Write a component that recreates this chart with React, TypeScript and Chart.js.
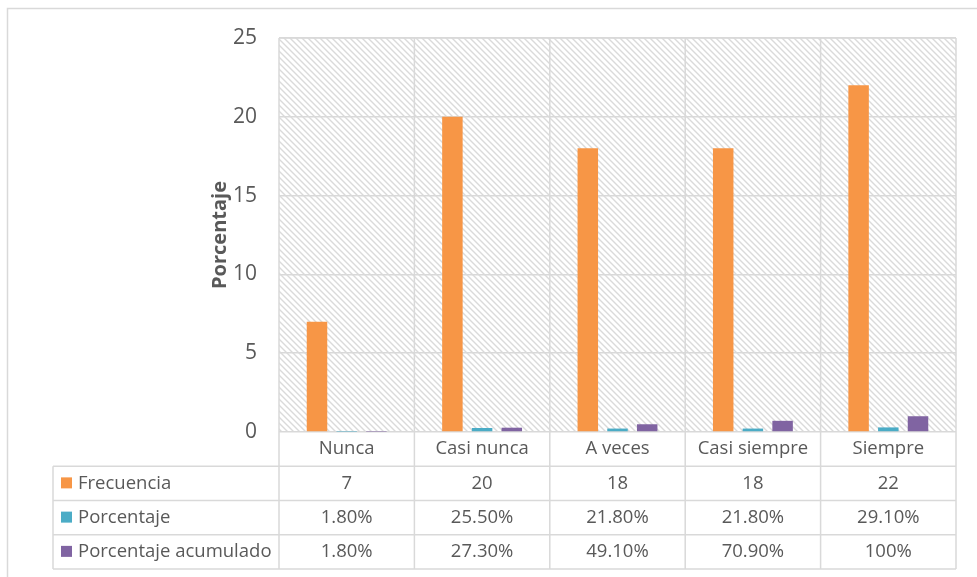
import { useEffect, useRef } from "react";
import { Chart, registerables } from "chart.js";

Chart.register(...registerables);

const categories = ["Nunca", "Casi nunca", "A veces", "Casi siempre", "Siempre"];
const seriesNames = ["Frecuencia", "Porcentaje", "Porcentaje acumulado"];
const frecuencia = [7, 20, 18, 18, 22];
const porcentaje = [0.018, 0.255, 0.218, 0.218, 0.291];
const acumulado = [0.018, 0.273, 0.491, 0.709, 1.0];
const frecuenciaLabels = ["7", "20", "18", "18", "22"];
const porcentajeLabels = ["1.80%", "25.50%", "21.80%", "21.80%", "29.10%"];
const acumuladoLabels = ["1.80%", "27.30%", "49.10%", "70.90%", "100%"];
const yMin = 0;
const yMax = 25;
const yStep = 5;
const axisTitle = "Porcentaje";

const COLORS = ["#F79646", "#4BACC6", "#8064A2"];
const TEXT = "#595959";
const LINE = "#d9d9d9";
const FONT = "'Open Sans', 'DejaVu Sans', sans-serif";
const ROW_H = 34.25;
const LEGEND_LEFT = 53;

function makePattern(ctx: CanvasRenderingContext2D) {
  const c = document.createElement("canvas");
  c.width = 6;
  c.height = 6;
  const p = c.getContext("2d")!;
  p.fillStyle = "#ffffff";
  p.fillRect(0, 0, 6, 6);
  p.strokeStyle = "#dadada";
  p.lineWidth = 1.4;
  p.beginPath();
  for (let k = -6; k <= 6; k += 6) {
    p.moveTo(k - 2, -2);
    p.lineTo(k + 8, 8);
  }
  p.stroke();
  return ctx.createPattern(c, "repeat")!;
}

const tablePlugin = {
  id: "excelTable",
  beforeDraw(chart: any) {
    const { ctx, chartArea: a, width, height } = chart;
    ctx.save();
    ctx.fillStyle = "#ffffff";
    ctx.fillRect(0, 0, width, height);
    ctx.strokeStyle = LINE;
    ctx.lineWidth = 1.5;
    ctx.beginPath();
    ctx.moveTo(7.5, height);
    ctx.lineTo(7.5, 8.5);
    ctx.lineTo(width, 8.5);
    ctx.stroke();
    ctx.fillStyle = makePattern(ctx);
    ctx.fillRect(a.left, a.top, a.right - a.left, a.bottom - a.top);
    ctx.restore();
  },
  beforeDatasetsDraw(chart: any) {
    const { ctx, chartArea: a } = chart;
    const x = chart.scales.x;
    const n = categories.length;
    const tableBottom = a.bottom + ROW_H * 4;
    ctx.save();
    ctx.strokeStyle = LINE;
    ctx.lineWidth = 1.5;
    ctx.beginPath();
    ctx.moveTo(a.left, a.top);
    ctx.lineTo(a.right, a.top);
    for (let i = 0; i <= n; i++) {
      const px = x.getPixelForValue(i - 0.5);
      ctx.moveTo(px, a.top);
      ctx.lineTo(px, tableBottom);
    }
    ctx.moveTo(LEGEND_LEFT, a.bottom + ROW_H);
    ctx.lineTo(LEGEND_LEFT, tableBottom);
    for (let r = 1; r <= 4; r++) {
      const py = a.bottom + ROW_H * r;
      ctx.moveTo(LEGEND_LEFT, py);
      ctx.lineTo(a.right, py);
    }
    ctx.stroke();
    ctx.restore();
  },
  afterDraw(chart: any) {
    const { ctx, chartArea: a } = chart;
    const x = chart.scales.x;
    const rows = [categories, frecuenciaLabels, porcentajeLabels, acumuladoLabels];
    ctx.save();
    ctx.fillStyle = TEXT;
    ctx.font = `18.5px ${FONT}`;
    ctx.textAlign = "center";
    ctx.textBaseline = "middle";
    rows.forEach((row, r) => {
      const cy = a.bottom + ROW_H * (r + 0.5);
      row.forEach((txt, i) => {
        ctx.fillText(txt, x.getPixelForValue(i), cy);
      });
    });
    ctx.textAlign = "left";
    seriesNames.forEach((name, s) => {
      const cy = a.bottom + ROW_H * (s + 1.5);
      ctx.fillStyle = COLORS[s];
      ctx.fillRect(61, cy - 6, 11, 11);
      ctx.fillStyle = TEXT;
      ctx.fillText(name, 78, cy);
    });
    ctx.restore();
  },
};

export default function App() {
  const ref = useRef<HTMLCanvasElement>(null);
  useEffect(() => {
    const chart = new Chart(ref.current!, {
      type: "bar",
      data: {
        labels: categories,
        datasets: [
          { label: seriesNames[0], data: frecuencia, backgroundColor: COLORS[0] },
          { label: seriesNames[1], data: porcentaje, backgroundColor: COLORS[1] },
          { label: seriesNames[2], data: acumulado, backgroundColor: COLORS[2] },
        ],
      },
      options: {
        animation: false,
        responsive: true,
        maintainAspectRatio: false,
        layout: { padding: { left: 200, right: 21, top: 38, bottom: 145 } },
        datasets: {
          bar: { categoryPercentage: 0.658, barPercentage: 0.69 },
        },
        plugins: {
          legend: { display: false },
          tooltip: { enabled: false },
        },
        scales: {
          x: { display: false, offset: true },
          y: {
            min: yMin,
            max: yMax,
            ticks: {
              stepSize: yStep,
              padding: 22,
              color: TEXT,
              font: { family: FONT, size: 21 },
            },
            grid: { color: LINE, lineWidth: 1.5, drawTicks: false },
            border: { display: false },
            title: {
              display: true,
              text: axisTitle,
              color: TEXT,
              font: { family: FONT, size: 20, weight: "bold" },
              padding: { top: 8, bottom: 0 },
            },
            afterFit: (s: any) => {
              s.width = 79;
            },
          },
        },
      },
      plugins: [tablePlugin],
    } as any);
    return () => chart.destroy();
  }, []);
  return (
    <div style={{ position: "absolute", left: 0, top: 0, width: 977, height: 577 }}>
      <canvas ref={ref} />
    </div>
  );
}
